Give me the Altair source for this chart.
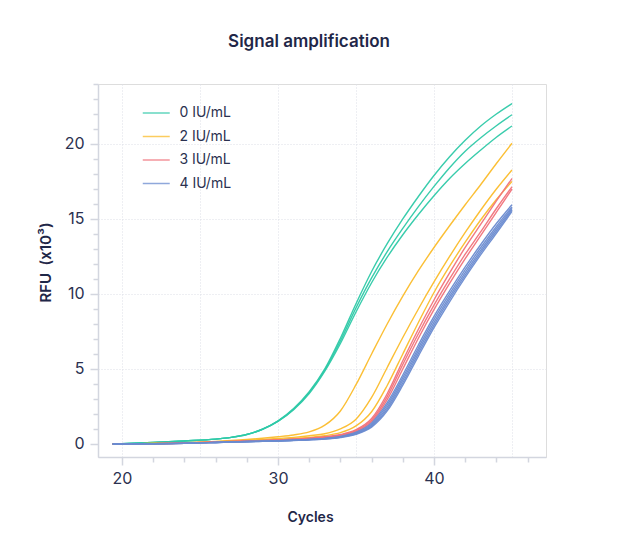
import altair as alt
import pandas as pd

cycles = [19.4, 20, 22, 24, 26, 27, 28, 29, 30, 31, 32, 33, 34, 35, 36, 37, 38, 39, 40, 41, 42, 43, 44, 45]

# 0 IU/mL
teal_1 = [0, 0.02, 0.1, 0.2, 0.32, 0.44, 0.64, 0.98, 1.54, 2.36, 3.48, 5.0, 7.05, 9.35, 11.5, 13.35, 15.0, 16.5, 17.9, 19.15, 20.25, 21.2, 22.0, 22.7]
teal_2 = [0, 0.02, 0.1, 0.2, 0.32, 0.44, 0.63, 0.98, 1.52, 2.32, 3.42, 4.92, 6.87, 9.07, 11.07, 12.82, 14.37, 15.82, 17.17, 18.42, 19.52, 20.42, 21.22, 21.95]
teal_3 = [0, 0.02, 0.1, 0.2, 0.32, 0.44, 0.63, 0.97, 1.5, 2.28, 3.36, 4.85, 6.7, 8.8, 10.75, 12.45, 13.95, 15.3, 16.55, 17.7, 18.7, 19.6, 20.45, 21.2]
# 2 IU/mL
yellow_1 = [0, 0.01, 0.03, 0.08, 0.17, 0.23, 0.3, 0.38, 0.48, 0.6, 0.8, 1.25, 2.2, 3.95, 6.0, 8.0, 9.85, 11.55, 13.1, 14.55, 15.95, 17.3, 18.7, 20.05]
yellow_2 = [0, 0.01, 0.03, 0.07, 0.15, 0.19, 0.24, 0.3, 0.36, 0.44, 0.55, 0.68, 1.0, 1.65, 3.1, 5.1, 7.1, 9.0, 10.8, 12.5, 14.1, 15.6, 17.0, 18.27]
yellow_3 = [0, 0.01, 0.03, 0.07, 0.14, 0.18, 0.22, 0.26, 0.3, 0.36, 0.44, 0.55, 0.75, 1.2, 2.15, 3.9, 6.0, 8.1, 10.1, 11.85, 13.45, 14.95, 16.3, 17.5]
# 3 IU/mL
red_1 = [0, 0.01, 0.02, 0.06, 0.13, 0.17, 0.2, 0.23, 0.27, 0.32, 0.39, 0.48, 0.63, 0.95, 1.7, 3.35, 5.55, 7.65, 9.6, 11.4, 13.1, 14.65, 16.2, 17.7]
red_2 = [0, 0.01, 0.02, 0.06, 0.13, 0.16, 0.19, 0.22, 0.26, 0.31, 0.37, 0.45, 0.59, 0.88, 1.58, 3.15, 5.3, 7.35, 9.25, 11.0, 12.65, 14.15, 15.7, 17.15]
red_3 = [0, 0.01, 0.02, 0.05, 0.12, 0.15, 0.18, 0.21, 0.25, 0.3, 0.35, 0.43, 0.55, 0.82, 1.48, 2.95, 5.0, 7.05, 8.95, 10.7, 12.35, 13.9, 15.45, 17.0]
# 4 IU/mL
blue_1 = [0, 0, 0.01, 0.04, 0.1, 0.13, 0.16, 0.18, 0.21, 0.25, 0.3, 0.37, 0.5, 0.78, 1.4, 2.75, 4.6, 6.6, 8.5, 10.2, 11.8, 13.3, 14.7, 15.95]
blue_2 = [0, 0, 0.01, 0.04, 0.1, 0.13, 0.16, 0.18, 0.21, 0.25, 0.3, 0.36, 0.48, 0.74, 1.32, 2.6, 4.42, 6.4, 8.3, 10.0, 11.6, 13.1, 14.5, 15.8]
blue_3 = [0, 0, 0.01, 0.04, 0.1, 0.13, 0.16, 0.18, 0.21, 0.24, 0.29, 0.35, 0.46, 0.7, 1.25, 2.45, 4.25, 6.22, 8.1, 9.82, 11.42, 12.92, 14.35, 15.7]
blue_4 = [0, 0, 0.01, 0.04, 0.1, 0.13, 0.15, 0.18, 0.2, 0.24, 0.28, 0.34, 0.45, 0.67, 1.18, 2.32, 4.08, 6.04, 7.92, 9.65, 11.25, 12.77, 14.2, 15.6]
blue_5 = [0, 0, 0.01, 0.04, 0.1, 0.12, 0.15, 0.17, 0.2, 0.23, 0.27, 0.33, 0.43, 0.64, 1.12, 2.2, 3.92, 5.86, 7.75, 9.48, 11.1, 12.62, 14.05, 15.5]

groups = ["0 IU/mL", "2 IU/mL", "3 IU/mL", "4 IU/mL"]
colors = ["#2ec9a8", "#fbbc2a", "#f0727a", "#6a8bd0"]

series = [
    ("a1", groups[0], teal_1), ("a2", groups[0], teal_2), ("a3", groups[0], teal_3),
    ("b1", groups[1], yellow_1), ("b2", groups[1], yellow_2), ("b3", groups[1], yellow_3),
    ("c1", groups[2], red_1), ("c2", groups[2], red_2), ("c3", groups[2], red_3),
    ("d1", groups[3], blue_1), ("d2", groups[3], blue_2), ("d3", groups[3], blue_3),
    ("d4", groups[3], blue_4), ("d5", groups[3], blue_5),
]

rows = []
order = 0
for sid, grp, vals in series:
    for c, v in zip(cycles, vals):
        rows.append({"curve": sid, "group": grp, "cycle": c, "rfu": v, "o": order})
        order += 1
df = pd.DataFrame(rows)

x_ticks = [20, 22, 24, 25, 26, 28, 30, 32, 34, 35, 36, 38, 40, 42, 44, 45, 46]
y_ticks = list(range(0, 25))

FONT = "Inter"
TXT = "#2b3150"
AXC = "#d3d6df"
GRID = "#dcdfe6"

x_axis = alt.Axis(
    values=x_ticks,
    labelExpr="datum.value % 10 === 0 ? datum.label : ''",
    labelOverlap=False, labelFlush=False,
    labelFont=FONT, labelFontSize=16, labelColor=TXT, labelPadding=5,
    domainColor=AXC, domainWidth=1.5,
    tickColor=AXC, tickWidth=1.5,
    tickSize={"condition": {"test": "datum.value % 10 === 0", "value": 8}, "value": 5},
    tickOpacity={"condition": {"test": "datum.value % 2 === 0", "value": 1}, "value": 0},
    grid=True, gridColor=GRID, gridDash=[1, 2], gridWidth=1,
    gridOpacity={"condition": {"test": "datum.value % 5 === 0", "value": 1}, "value": 0},
    title="Cycles", titleFont=FONT, titleFontSize=14, titleFontWeight=600, titleColor="#1f2748",
    titleX=212, titleY=64, titleBaseline="alphabetic", titleAlign="center",
)

y_axis = alt.Axis(
    values=y_ticks,
    labelExpr="datum.value % 5 === 0 ? datum.label : ''",
    labelOverlap=False, labelFlush=False,
    labelFont=FONT, labelFontSize=16, labelColor=TXT, labelPadding=6,
    domainColor=AXC, domainWidth=1.5,
    tickColor=AXC, tickWidth=1.5,
    tickSize={"condition": {"test": "datum.value % 5 === 0", "value": 8}, "value": 5},
    grid=True, gridColor=GRID, gridDash=[1, 2], gridWidth=1,
    gridOpacity={"condition": {"test": "datum.value % 5 === 0 && datum.value > 0", "value": 1}, "value": 0},
    title="RFU\u2002(x10³)", titleFont=FONT, titleFontSize=15, titleFontWeight=600, titleColor="#1f2748",
    titleX=-53, titleY=178, titleAngle=270, titleBaseline="middle", titleAlign="center",
)

chart = alt.Chart(df).mark_line(strokeWidth=1.4, interpolate="monotone", opacity=0.95).encode(
    x=alt.X("cycle:Q", scale=alt.Scale(domain=[18.46, 47.18], nice=False, zero=False), axis=x_axis),
    y=alt.Y("rfu:Q", scale=alt.Scale(domain=[-0.87, 24], nice=False, zero=False), axis=y_axis),
    color=alt.Color(
        "group:N",
        scale=alt.Scale(domain=groups, range=colors),
        legend=alt.Legend(
            title=None, orient="none", legendX=50.75, legendY=21.5, padding=0,
            symbolType="M-2,0H2", symbolSize=182, symbolStrokeWidth=1.5, symbolOpacity=0.75,
            labelOffset=15.75, rowPadding=8.5,
            labelFont=FONT, labelFontSize=14, labelColor=TXT,
        ),
    ),
    detail="curve:N",
    order="o:Q",
).properties(
    width=448, height=373,
    autosize=alt.AutoSizeParams(type="none"),
    padding={"left": 90, "top": 76, "right": 86, "bottom": 78},
    title=alt.TitleParams(
        "Signal amplification", font=FONT, fontSize=17, fontWeight=600, color="#1f2748",
        anchor="middle", dx=-13, offset=25,
    ),
).configure_view(stroke=GRID, strokeDash=[1, 2], strokeWidth=1).configure(background="white")

chart.save("out.html", embed_options={"renderer": "svg", "actions": False})
